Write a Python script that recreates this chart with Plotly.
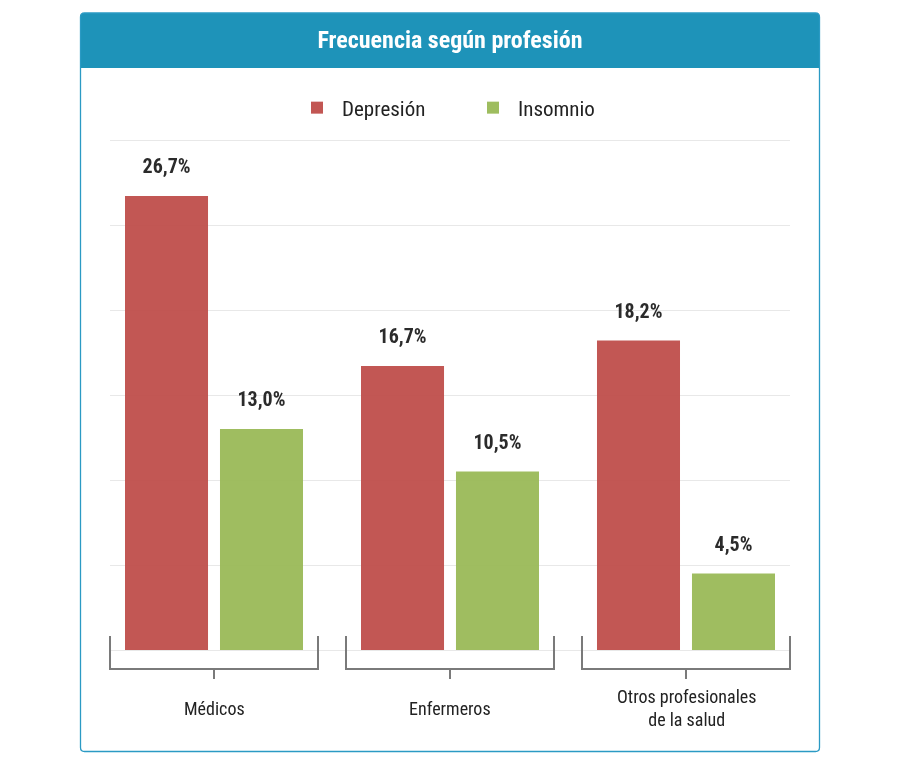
import plotly.graph_objects as go

categories = ["Médicos", "Enfermeros", "Otros profesionales<br>de la salud"]
depresion = [26.7, 16.7, 18.2]
insomnio = [13.0, 10.5, 4.5]
series_names = ["Depresión", "Insomnio"]
title_text = "Frecuencia según profesión"

FONT = "Roboto Condensed, Liberation Sans Narrow, DejaVu Sans Condensed, Roboto, sans-serif"
RED = "#c0504d"
GREEN = "#9bbb59"
BLUE = "#1e93b9"

# the page puts the figure 8px from the window corner
OFF = 8
# plot area, in window pixels
L, R, T, B = 110, 790, 123, 650
W, H = R - L, B - T
X0, X1 = -0.4407, 2.4407


def px(x):
    return (x - L) / W


def py(y):
    return (B - y) / H


def cat_paper(v):
    return (v - X0) / (X1 - X0)


fig = go.Figure()
for name, vals, col in [(series_names[0], depresion, RED), (series_names[1], insomnio, GREEN)]:
    fig.add_trace(go.Bar(
        x=categories, y=vals, name=name,
        marker=dict(color=col, line=dict(width=0)), opacity=0.96,
        # small base font + empty second line lifts the label off the bar
        texttemplate="<span style='font-size:20px'><b>%{y:.1f}%</b></span><br> ",
        textposition="outside",
        textfont=dict(family=FONT, size=13, color="#222222"),
        constraintext="none", cliponaxis=False
    ))

shapes = []
# card border and header
r = 4
x_a, x_b = px(80.5), px(819.5)
y_a, y_b, y_h = py(13), py(751.5), py(68)
rx, ry = r / W, r / H
shapes.append(dict(
    type="path", xref="paper", yref="paper",
    path=(f"M {x_a},{y_h} L {x_a},{y_a - ry} Q {x_a},{y_a} {x_a + rx},{y_a} "
          f"L {x_b - rx},{y_a} Q {x_b},{y_a} {x_b},{y_a - ry} L {x_b},{y_h} Z"),
    fillcolor=BLUE, line=dict(width=0), layer="below"
))
shapes.append(dict(
    type="path", xref="paper", yref="paper",
    path=(f"M {x_a},{y_a - ry} L {x_a},{y_b + ry} Q {x_a},{y_b} {x_a + rx},{y_b} "
          f"L {x_b - rx},{y_b} Q {x_b},{y_b} {x_b},{y_b + ry} L {x_b},{y_a - ry} "
          f"Q {x_b},{y_a} {x_b - rx},{y_a} L {x_a + rx},{y_a} Q {x_a},{y_a} {x_a},{y_a - ry} Z"),
    line=dict(color="#2b9ac4", width=1.3), layer="below"
))

# category brackets
half = 104 / 236
for i in range(len(categories)):
    xl, xr, xc = cat_paper(i - half), cat_paper(i + half), cat_paper(i)
    yt, yb, yk = py(636), py(669), py(679)
    shapes.append(dict(
        type="path", xref="paper", yref="paper",
        path=f"M {xl},{yt} L {xl},{yb} L {xr},{yb} L {xr},{yt} M {xc},{yb} L {xc},{yk}",
        line=dict(color="#7a7a7a", width=2)
    ))

annotations = []
for i, c in enumerate(categories):
    annotations.append(dict(
        x=i, xref="x", y=py(708), yref="paper", text=c, showarrow=False,
        xanchor="center", yanchor="middle",
        font=dict(family=FONT, size=18, color="#222222")
    ))

fig.update_layout(
    width=900, height=765,
    margin=dict(l=L - OFF, r=900 - (R - OFF), t=T - OFF, b=765 - (B - OFF), autoexpand=False),
    paper_bgcolor="white", plot_bgcolor="white",
    separators=",.",
    barmode="group", bargap=0.195, bargroupgap=0.126,
    title=dict(text=f"<b>{title_text}</b>", x=0.5, xref="paper", xanchor="center",
               y=1 - (40 - OFF) / 765, yref="container", yanchor="middle",
               font=dict(family=FONT, size=24, color="white")),
    legend=dict(orientation="h", x=0.5 + 18 / W, xanchor="center", y=py(108), yanchor="middle",
                font=dict(family=FONT, size=21, color="#222222"),
                itemwidth=40, entrywidth=121, entrywidthmode="pixels",
                bgcolor="rgba(0,0,0,0)"),
    shapes=shapes, annotations=annotations,
    font=dict(family=FONT)
)
fig.update_xaxes(range=[X0, X1], showticklabels=False, showgrid=False,
                 showline=False, ticks="", zeroline=False)
fig.update_yaxes(range=[0, 30 * H / 510], tick0=0, dtick=5, showticklabels=False,
                 showgrid=True, gridcolor="#e8e8e8", gridwidth=1,
                 zeroline=True, zerolinecolor="#e8e8e8", zerolinewidth=1,
                 showline=False, ticks="")

fig.write_html("out.html")
